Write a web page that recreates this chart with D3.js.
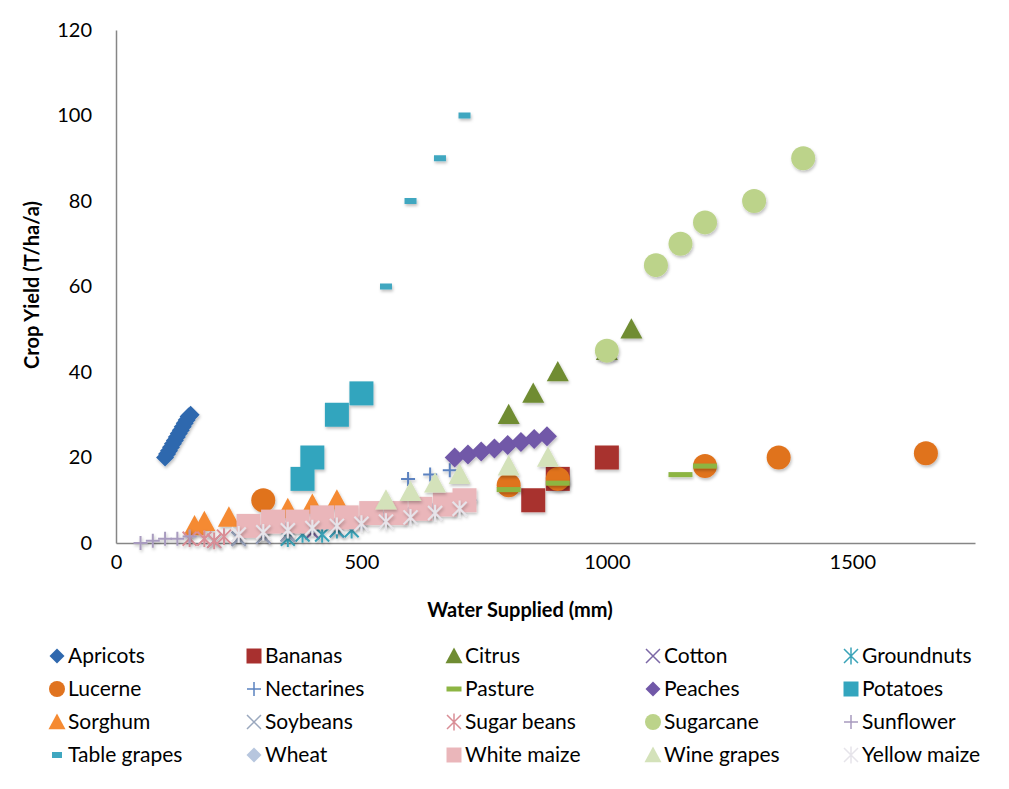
<!DOCTYPE html>
<html><head><meta charset="utf-8">
<script src="https://cdn.jsdelivr.net/npm/d3@7"></script>
<style>body{margin:0;background:#fff}svg{display:block}</style>
</head><body>
<svg id="c" width="1009" height="789"></svg>
<script>
const xTicks = [0, 500, 1000, 1500];
const yTicks = [0, 20, 40, 60, 80, 100, 120];
const seriesNames = ["Apricots","Bananas","Citrus","Cotton","Groundnuts","Lucerne","Nectarines","Pasture","Peaches","Potatoes","Sorghum","Soybeans","Sugar beans","Sugarcane","Sunflower","Table grapes","Wheat","White maize","Wine grapes","Yellow maize"];
const apricots = [[100,20],[104,20.8],[108,21.6],[112,22.4],[116,23.2],[120,24],[124,24.8],[128,25.6],[132,26.4],[136,27.2],[140,28],[144,28.8],[148,29.6],[152,30]];
const bananas = [[850,10],[900,15],[1000,20]];
const citrus = [[800,30],[850,35],[900,40],[1000,45],[1050,50]];
const cotton = [[250,1],[300,1.5],[350,2],[400,2.5],[450,3]];
const groundnuts = [[350,1],[380,2],[420,2],[450,3],[480,3]];
const lucerne = [[300,10],[800,13.5],[900,15],[1200,18],[1350,20],[1650,21]];
const nectarines = [[595,15],[640,16],[680,17]];
const pasture = [[800,12.5],[900,14],[1150,16],[1200,18]];
const peaches = [[690,20],[717,20.7],[744,21.4],[771,22.1],[798,22.9],[825,23.6],[852,24.3],[878,25]];
const potatoes = [[380,15],[400,20],[450,30],[500,35]];
const sorghum = [[160,4],[180,5],[230,6],[350,8],[400,9],[450,10]];
const soybeans = [[200,0.5],[250,1],[300,1.5],[350,2]];
const sugarBeans = [[150,1],[180,1],[200,0.5],[220,1.5]];
const sugarcane = [[1000,45],[1100,65],[1150,70],[1200,75],[1300,80],[1400,90]];
const sunflower = [[50,0],[75,0.5],[100,1],[125,1],[150,1.5]];
const tableGrapes = [[550,60],[600,80],[660,90],[710,100]];
const wheat = [[300,3],[350,3.5],[400,4],[450,4.5],[500,5],[550,6],[600,7],[650,8],[700,9],[720,10]];
const whiteMaize = [[270,4],[320,5],[370,5],[420,6],[470,6],[520,7],[570,7],[620,8],[670,9],[710,10]];
const wineGrapes = [[550,10],[600,12],[650,14],[700,16],[800,18],[880,20]];
const yellowMaize = [[250,2],[300,2.5],[350,3],[400,3.5],[450,4],[500,4.5],[550,5],[600,6],[650,7],[700,8]];

const seriesData = [apricots,bananas,citrus,cotton,groundnuts,lucerne,nectarines,pasture,peaches,potatoes,sorghum,soybeans,sugarBeans,sugarcane,sunflower,tableGrapes,wheat,whiteMaize,wineGrapes,yellowMaize];
const shapes = ["diamond","square","triangle","x","star","circle","plus","dash","diamond","square","triangle","x","star","circle","plus","smalldash","diamond","square","triangle","star"];
const colors = ["#2F68AE","#A8302F","#6F8C32","#7B68A6","#3AA3B8","#E0731F","#5B82C0","#8DB543","#7158A8","#33A5BE","#F58A32","#9AA8BE","#D98E96","#BCD38A","#A89BBF","#3FA7C0","#B7C6DE","#EAB6BA","#D4E2BA","#E6E4EA"];
const sizes = [9,12,11,7,7,12,7,12,10,12,11,7,7,12,7,6,8,12,11,7];

const svg = d3.select("#c");
const defs = svg.append("defs");
const f = defs.append("filter").attr("id","sh").attr("x","-50%").attr("y","-50%").attr("width","200%").attr("height","200%");
f.append("feDropShadow").attr("dx",1).attr("dy",2).attr("stdDeviation",1.5).attr("flood-color","#000").attr("flood-opacity",0.25);

const x = d3.scaleLinear().domain([0,1750]).range([116,975]);
const y = d3.scaleLinear().domain([0,120]).range([543,30]);

const font = "Lato, 'Open Sans', sans-serif";

function markerPath(type, r){
  switch(type){
    case "diamond": return `M0,${-r}L${r},0L0,${r}L${-r},0Z`;
    case "square": return `M${-r},${-r}H${r}V${r}H${-r}Z`;
    case "triangle": return `M0,${-r}L${r},${r*0.85}L${-r},${r*0.85}Z`;
    case "circle": return d3.symbol(d3.symbolCircle, Math.PI*r*r)();
    case "dash": return `M${-r},-2.5H${r}V2.5H${-r}Z`;
    case "smalldash": return `M${-r},-3H${r}V3H${-r}Z`;
    case "x": return `M${-r},${-r}L${r},${r}M${r},${-r}L${-r},${r}`;
    case "plus": return `M${-r},0H${r}M0,${-r}V${r}`;
    case "star": return `M${-r},${-r}L${r},${r}M${r},${-r}L${-r},${r}M0,${-r*1.2}V${r*1.2}`;
  }
}
const stroked = t => t==="x"||t==="plus"||t==="star";

// axes
const gx = svg.append("g").attr("transform","translate(0,543)")
  .call(d3.axisBottom(x).tickValues(xTicks).tickSize(0).tickPadding(12).tickFormat(d3.format("d")));
gx.select(".domain").attr("stroke","#868686").attr("stroke-width",1.5);
gx.selectAll("text").attr("font-family",font).attr("font-size",20).attr("fill","#000");
const gy = svg.append("g").attr("transform","translate(116,0)")
  .call(d3.axisLeft(y).tickValues(yTicks).tickSize(0).tickPadding(24));
gy.select(".domain").attr("stroke","#868686").attr("stroke-width",1.5);
gy.selectAll("text").attr("font-family",font).attr("font-size",20).attr("fill","#000");

svg.append("text").attr("x",520).attr("y",617).attr("text-anchor","middle")
  .attr("font-family",font).attr("font-weight","bold").attr("font-size",20).text("Water Supplied (mm)");
svg.append("text").attr("transform","translate(39,285) rotate(-90)").attr("text-anchor","middle")
  .attr("font-family",font).attr("font-weight","bold").attr("font-size",20).text("Crop Yield (T/ha/a)");

// marks
const plot = svg.append("g");
seriesData.forEach((data,i)=>{
  const t = shapes[i];
  plot.append("g").attr("filter","url(#sh)").selectAll("path").data(data).join("path")
    .attr("transform",d=>`translate(${x(d[0])},${y(d[1])})`)
    .attr("d",markerPath(t,sizes[i]))
    .attr("fill",stroked(t)?"none":colors[i])
    .attr("stroke",stroked(t)?colors[i]:"none")
    .attr("stroke-width",2);
});

// legend
const colX = [57, 254, 454, 653, 851];
const rowY = [656, 689, 722, 755];
const lg = svg.append("g");
seriesNames.forEach((n,i)=>{
  const cx = colX[i%5], cy = rowY[Math.floor(i/5)];
  const t = shapes[i];
  let r = 7.5;
  if(t==="circle") r=8; if(t==="square") r=7.5; if(t==="triangle") r=8.5; if(t==="dash") r=7.5; if(t==="smalldash") r=5;
  if(t==="x"||t==="plus"||t==="star") r=7;
  lg.append("path").attr("transform",`translate(${cx},${cy})`).attr("d",markerPath(t,r))
    .attr("fill",stroked(t)?"none":colors[i]).attr("stroke",stroked(t)?colors[i]:"none").attr("stroke-width",1.5);
  lg.append("text").attr("x",cx+11).attr("y",cy+7).attr("font-family",font).attr("font-size",21).attr("fill","#000").text(n);
});
</script>
</body></html>
